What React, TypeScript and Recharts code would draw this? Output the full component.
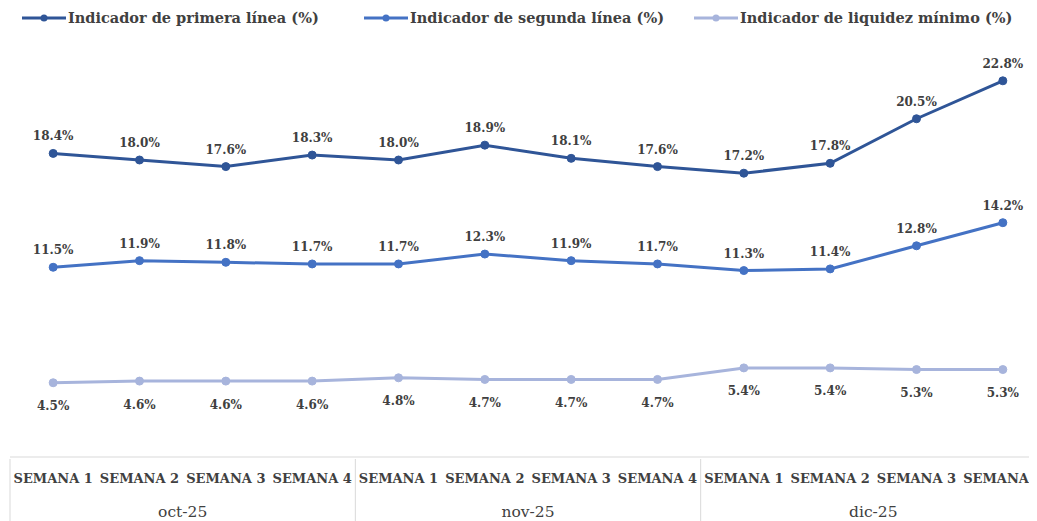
import React from 'react';
import { ComposedChart, Line, XAxis, YAxis, LabelList } from 'recharts';

const weeks = [
  'SEMANA 1', 'SEMANA 2', 'SEMANA 3', 'SEMANA 4',
  'SEMANA 1', 'SEMANA 2', 'SEMANA 3', 'SEMANA 4',
  'SEMANA 1', 'SEMANA 2', 'SEMANA 3', 'SEMANA 4',
];
const months = [
  'oct-25', 'oct-25', 'oct-25', 'oct-25',
  'nov-25', 'nov-25', 'nov-25', 'nov-25',
  'dic-25', 'dic-25', 'dic-25', 'dic-25',
];
const primera = [18.4, 18.0, 17.6, 18.3, 18.0, 18.9, 18.1, 17.6, 17.2, 17.8, 20.5, 22.8];
const segunda = [11.5, 11.9, 11.8, 11.7, 11.7, 12.3, 11.9, 11.7, 11.3, 11.4, 12.8, 14.2];
const liquidez = [4.5, 4.6, 4.6, 4.6, 4.8, 4.7, 4.7, 4.7, 5.4, 5.4, 5.3, 5.3];

const series = [
  { key: 'primera', name: 'Indicador de primera línea (%)', color: '#2F5597', labelPos: 'top', legendX: 22 },
  { key: 'segunda', name: 'Indicador de segunda línea (%)', color: '#4472C4', labelPos: 'top', legendX: 364 },
  { key: 'liquidez', name: 'Indicador de liquidez mínimo (%)', color: '#A7B4DC', labelPos: 'bottom', legendX: 694 },
];

const data = weeks.map((w, i) => ({
  week: w,
  month: months[i],
  primera: primera[i],
  segunda: segunda[i],
  liquidez: liquidez[i],
}));

const FONT = '"DejaVu Serif", serif';
const TEXT = '#404040';
const BORDER = '#D9D9D9';

const CHART_W = 1050;
const MARGIN = { top: 61, right: 4, bottom: 0, left: 10 };
const PLOT_W = CHART_W - MARGIN.left - MARGIN.right;
const HALF_BAND = PLOT_W / weeks.length / 2;
const MONTH_PAD = HALF_BAND * 4;

const WeekTick = (props: any) => {
  const { x, y, payload, index } = props;
  return (
    <g>
      {index % 4 === 0 && (
        <line x1={x - HALF_BAND} x2={x - HALF_BAND} y1={y} y2={y + 70} stroke={BORDER} strokeWidth={1} />
      )}
      <text x={x} y={y + 24} textAnchor="middle" fontFamily={FONT} fontWeight="bold" fontSize={13} fill={TEXT}>
        {payload.value}
      </text>
    </g>
  );
};

const MonthTick = (props: any) => {
  const { x, y, payload } = props;
  return (
    <text x={x} y={y + 26} textAnchor="middle" fontFamily={FONT} fontSize={15.5} fill={TEXT}>
      {payload.value}
    </text>
  );
};

const LegendBox = () => (
  <div style={{ position: 'absolute', top: 9, left: 0, width: 1037, height: 20 }}>
    {series.map((s) => (
      <div
        key={s.key}
        style={{
          position: 'absolute', left: s.legendX, top: 0, display: 'flex', alignItems: 'center',
          fontFamily: FONT, fontWeight: 'bold', fontSize: 14.5, color: TEXT, whiteSpace: 'nowrap',
        }}
      >
        <svg width={44} height={12} style={{ marginRight: 2 }}>
          <line x1={0} x2={44} y1={6} y2={6} stroke={s.color} strokeWidth={3} />
          <circle cx={22} cy={6} r={3.5} fill={s.color} />
        </svg>
        <span>{s.name}</span>
      </div>
    ))}
  </div>
);

const pct = (v: any) => `${Number(v).toFixed(1)}%`;

export default function App() {
  return (
    <div style={{ margin: '-8px 0 0 -8px', width: 1037, height: 521, overflow: 'hidden', background: '#fff', position: 'relative' }}>
      <LegendBox />
      <ComposedChart width={CHART_W} height={521} data={data} margin={MARGIN}>
        <XAxis
          dataKey="week"
          xAxisId={0}
          height={32}
          interval={0}
          padding={{ left: HALF_BAND, right: HALF_BAND }}
          tickSize={0}
          tickLine={false}
          axisLine={{ stroke: BORDER }}
          tick={<WeekTick />}
        />
        <XAxis
          dataKey="month"
          xAxisId="month"
          height={32}
          allowDuplicatedCategory={false}
          interval={0}
          padding={{ left: MONTH_PAD, right: MONTH_PAD }}
          tickSize={0}
          tickLine={false}
          axisLine={false}
          tick={<MonthTick />}
        />
        <YAxis hide domain={[0, 24]} />
        {series.map((s) => (
          <Line
            key={s.key}
            type="linear"
            dataKey={s.key}
            name={s.name}
            stroke={s.color}
            strokeWidth={3}
            dot={{ r: 4, fill: s.color, stroke: s.color, strokeWidth: 1 }}
            activeDot={false}
            isAnimationActive={false}
          >
            <LabelList
              dataKey={s.key}
              position={s.labelPos as any}
              offset={s.labelPos === 'top' ? 13 : 19}
              formatter={pct}
              style={{ fontFamily: FONT, fontWeight: 'bold', fontSize: 12, fill: TEXT }}
            />
          </Line>
        ))}
      </ComposedChart>
    </div>
  );
}
